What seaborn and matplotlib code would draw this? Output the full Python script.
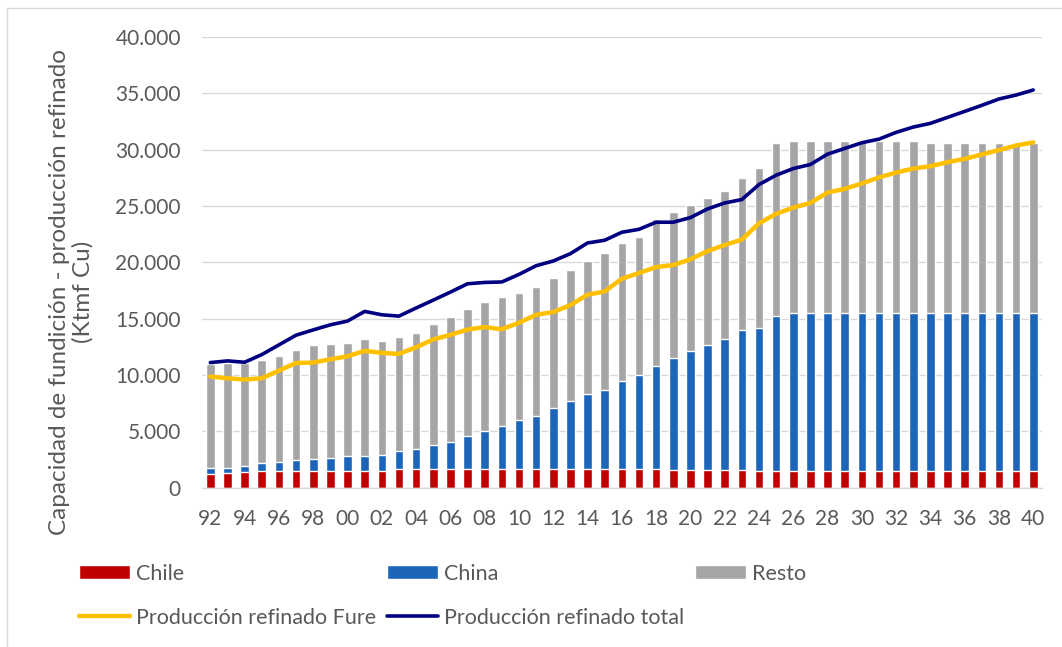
import numpy as np
import pandas as pd
import matplotlib.pyplot as plt
import seaborn as sns
from matplotlib.ticker import FuncFormatter
from matplotlib.patches import Rectangle

# ---- data (Ktmf Cu), 1992-2040 ----
years = [f"{y % 100:02d}" for y in range(1992, 2041)]

chile = [1250, 1300, 1390, 1480, 1480, 1480, 1450, 1450, 1480, 1480,
         1480, 1630, 1630, 1630, 1630, 1630, 1630, 1660, 1660, 1660,
         1660, 1660, 1630, 1660, 1630, 1630, 1630, 1540, 1540, 1540,
         1540, 1540, 1450, 1450, 1450, 1450, 1450, 1450, 1450, 1450,
         1450, 1450, 1450, 1450, 1450, 1450, 1450, 1450, 1450]

china = [470, 500, 590, 680, 770, 950, 1130, 1220, 1330, 1360,
         1420, 1600, 1840, 2190, 2400, 2930, 3440, 3850, 4330, 4740,
         5390, 6010, 6730, 7050, 7880, 8350, 9210, 10020, 10640, 11140,
         11670, 12420, 12740, 13750, 14080, 14080, 14080, 14080, 14080, 14080,
         14080, 14080, 14080, 14080, 14080, 14080, 14080, 14080, 14080]

resto = [9280, 9300, 9120, 9190, 9450, 9840, 10100, 10130, 10050, 10320,
         10140, 10130, 10250, 10730, 11080, 11290, 11400, 11410, 11310, 11440,
         11590, 11680, 11790, 12090, 12180, 12240, 13010, 12880, 12950, 13040,
         13130, 13510, 14170, 15410, 15250, 15250, 15250, 15250, 15250, 15250,
         15250, 15250, 15080, 15080, 15080, 15080, 15080, 15080, 15080]

fure = [9870, 9720, 9600, 9720, 10400, 11080, 11110, 11400, 11670, 12150,
        11970, 11880, 12470, 13160, 13570, 14040, 14260, 14070, 14640, 15350,
        15590, 16210, 17130, 17420, 18550, 19050, 19580, 19760, 20270, 21000,
        21540, 22020, 23460, 24300, 24860, 25270, 26190, 26520, 27000, 27530,
        27970, 28320, 28530, 28890, 29180, 29570, 29960, 30370, 30640]

total = [11110, 11260, 11140, 11820, 12680, 13540, 14010, 14460, 14790, 15650,
         15350, 15230, 15950, 16650, 17360, 18100, 18220, 18260, 18930, 19700,
         20120, 20770, 21720, 21960, 22670, 22930, 23560, 23560, 23970, 24740,
         25270, 25570, 26900, 27730, 28320, 28680, 29600, 30100, 30610, 30930,
         31530, 32000, 32330, 32860, 33390, 33930, 34490, 34840, 35290]

RED = "#C00000"
BLUE = "#1D65B8"
GRAY = "#A5A5A8"
YELLOW = "#FFC000"
NAVY = "#000080"
TXT = "#595959"

df = pd.DataFrame({"year": years, "Chile": chile, "China": china, "Resto": resto,
                   "fure": fure, "total": total})
df["top_china"] = df["Chile"] + df["China"]
df["top_resto"] = df["top_china"] + df["Resto"]
df["pos"] = np.arange(len(df))

sns.set_theme(style="white")
plt.rcParams["font.family"] = ["Lato", "DejaVu Sans"]

fig, ax = plt.subplots(figsize=(10.62, 6.47), dpi=100)
fig.subplots_adjust(left=0.190, right=0.981, top=0.943, bottom=0.246)

# stacked bars: draw cumulative totals back to front
sns.barplot(data=df, x="year", y="top_resto", color=GRAY, saturation=1,
            width=0.5, label="Resto", ax=ax, zorder=2)
sns.barplot(data=df, x="year", y="top_china", color=BLUE, saturation=1,
            width=0.5, label="China", ax=ax, zorder=2)
sns.barplot(data=df, x="year", y="Chile", color=RED, saturation=1,
            width=0.5, label="Chile", ax=ax, zorder=2)

sns.lineplot(data=df, x="pos", y="fure", color=YELLOW, lw=3.2,
             label="Producción refinado Fure", ax=ax, zorder=3)
sns.lineplot(data=df, x="pos", y="total", color=NAVY, lw=2.6,
             label="Producción refinado total", ax=ax, zorder=4)

ax.set_xlim(-0.5, len(df) - 0.5)
ax.set_ylim(0, 40000)
ax.set_yticks(np.arange(0, 40001, 5000))
ax.yaxis.set_major_formatter(FuncFormatter(lambda v, p: f"{int(v):,}".replace(",", ".")))
ax.set_xticks(df["pos"][::2])
ax.set_xticklabels(df["year"][::2])
ax.set_xlabel("")
ax.set_ylabel("")

ax.grid(axis="y", color="#D9D9D9", lw=1, zorder=0)
ax.set_axisbelow(True)
for s in ["left", "right", "top"]:
    ax.spines[s].set_visible(False)
ax.spines["bottom"].set_color("#D9D9D9")
ax.spines["bottom"].set_linewidth(1)
ax.tick_params(axis="y", length=0, pad=15, labelsize=15, labelcolor=TXT)
ax.tick_params(axis="x", length=0, pad=15, labelsize=15, labelcolor=TXT)

fig.text(0.067, 0.549, "Capacidad de fundición - producción refinado\n(Ktmf Cu)",
         rotation=90, ha="center", va="center", multialignment="center",
         fontsize=17.5, color=TXT, linespacing=1.15)

# legend in Excel-like order
h, l = ax.get_legend_handles_labels()
hm = dict(zip(l, h))
order = ["Chile", "Producción refinado Fure", "China",
         "Producción refinado total", "Resto"]
ax.get_legend().remove()
fig.legend([hm[k] for k in order], order, ncol=3, loc="upper left",
           bbox_to_anchor=(0.066, 0.142), frameon=False, fontsize=15.5,
           labelcolor=TXT, handlelength=2.4, handleheight=0.65,
           handletextpad=0.25, columnspacing=0.5, labelspacing=1.12,
           borderaxespad=0)

# chart border
fig.patches.append(Rectangle((7 / 1062, -0.05), 1.1, 1 - 8 / 647 + 0.05,
                             transform=fig.transFigure, fill=False,
                             edgecolor="#D9D9D9", lw=1))

fig.savefig("out.png", dpi=100)
